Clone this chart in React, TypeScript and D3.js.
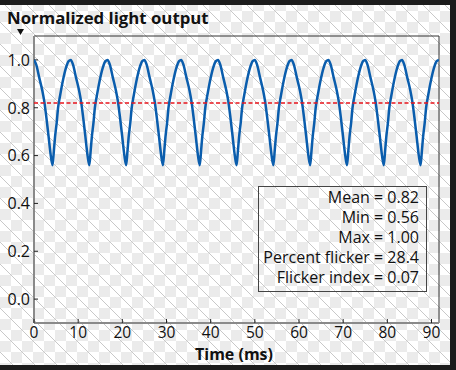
import React from "react";
import * as d3 from "d3";

const cycleStarts = [0, 8.33, 16.67, 25.0, 33.33, 41.67, 50.0, 58.33, 66.67, 75.0, 83.33];
const cycleOffsets = [0, 0.5, 1.2, 1.9, 2.3, 2.8, 3.3, 3.8, 4.2, 4.5, 4.75, 5.15, 5.45, 5.9, 6.5, 7.2, 7.85];
const cycleValues = [1.0, 0.98, 0.925, 0.87, 0.83, 0.76, 0.68, 0.6, 0.56, 0.62, 0.675, 0.74, 0.8, 0.85, 0.91, 0.965, 0.995];
const endTime = 91.67;
const endValue = 1.0;
const meanValue = 0.82;
const xTicks = [0, 10, 20, 30, 40, 50, 60, 70, 80, 90];
const yTicks = [0.0, 0.2, 0.4, 0.6, 0.8, 1.0];
const statLabels = ["Mean", "Min", "Max", "Percent flicker", "Flicker index"];
const statValues = ["0.82", "0.56", "1.00", "28.4", "0.07"];

const W = 456;
const H = 370;
const L = 34, R = 439, T = 36, B = 323;
const FONT = "'Open Sans', 'DejaVu Sans', sans-serif";

export default function App() {
  const x = d3.scaleLinear().domain([0, 91.7]).range([L, R]);
  const y = d3.scaleLinear().domain([-0.1, 1.1]).range([B, T]);

  const pts: [number, number][] = [];
  cycleStarts.forEach((s) => {
    cycleOffsets.forEach((o, i) => pts.push([s + o, cycleValues[i]]));
  });
  pts.push([endTime, endValue]);

  const line = d3
    .line<[number, number]>()
    .x((d) => x(d[0]))
    .y((d) => y(d[1]))
    .curve(d3.curveMonotoneX);

  return (
    <svg
      width={W}
      height={H}
      style={{ position: "absolute", left: 0, top: 0 }}
      fontFamily={FONT}
    >
      <defs>
        <pattern id="chk" width={22} height={22} patternUnits="userSpaceOnUse">
          <rect width={22} height={22} fill="#ffffff" />
          <rect x={11} y={0} width={11} height={11} fill="#ebebeb" />
          <rect x={0} y={11} width={11} height={11} fill="#ebebeb" />
          <path d="M0,0L22,22M-11,11L11,33M11,-11L33,11" stroke="#c8c8c8" strokeWidth={1} />
        </pattern>
        <clipPath id="plotclip">
          <rect x={L} y={T} width={R - L} height={B - T} />
        </clipPath>
      </defs>
      <rect width={W} height={H} fill="url(#chk)" />
      <rect x={0} y={0} width={W} height={5} fill="#1c1c1c" />
      <rect x={450} y={0} width={6} height={H} fill="#1c1c1c" />
      <rect x={0} y={365} width={W} height={5} fill="#1c1c1c" />

      <text x={7} y={24} fontSize={16.8} fontWeight="bold" fill="#111">
        Normalized light output
      </text>
      <path d="M17,29L24,29L20.5,35Z" fill="#111" />

      <line x1={L} y1={T} x2={R} y2={T} stroke="#333" strokeWidth={1} />
      <line x1={R} y1={T} x2={R} y2={B} stroke="#333" strokeWidth={1} />
      <line x1={L} y1={T} x2={L} y2={B} stroke="#8a8a8a" strokeWidth={2} />
      <line x1={L} y1={B} x2={R} y2={B} stroke="#8a8a8a" strokeWidth={2} />

      {yTicks.map((t) => (
        <g key={"y" + t}>
          <line x1={L} x2={L + 4} y1={y(t)} y2={y(t)} stroke="#222" strokeWidth={1} />
          <text x={30} y={y(t)} dy="0.36em" textAnchor="end" fontSize={16} fill="#111">
            {t.toFixed(1)}
          </text>
        </g>
      ))}
      {xTicks.map((t) => (
        <g key={"x" + t}>
          <line x1={x(t)} x2={x(t)} y1={B} y2={B - 4} stroke="#222" strokeWidth={1} />
          <text x={x(t)} y={338} textAnchor="middle" fontSize={15.5} fill="#111">
            {t}
          </text>
        </g>
      ))}
      <text x={234} y={360} textAnchor="middle" fontSize={16} fontWeight="bold" fill="#111">
        Time (ms)
      </text>

      <g clipPath="url(#plotclip)">
        <path d={line(pts) || ""} fill="none" stroke="#0a5dad" strokeWidth={2.5} strokeLinejoin="round" />
        <line
          x1={L}
          x2={R}
          y1={y(meanValue)}
          y2={y(meanValue)}
          stroke="#e8141c"
          strokeWidth={1.5}
          strokeDasharray="4,2.5"
        />
      </g>

      <rect x={258.5} y={186.5} width={168} height={105} fill="none" stroke="#444" strokeWidth={1} />
      {statLabels.map((lab, i) => (
        <text key={lab} x={419} y={203 + i * 20} textAnchor="end" fontSize={16} fill="#111">
          {lab + " = " + statValues[i]}
        </text>
      ))}
    </svg>
  );
}
